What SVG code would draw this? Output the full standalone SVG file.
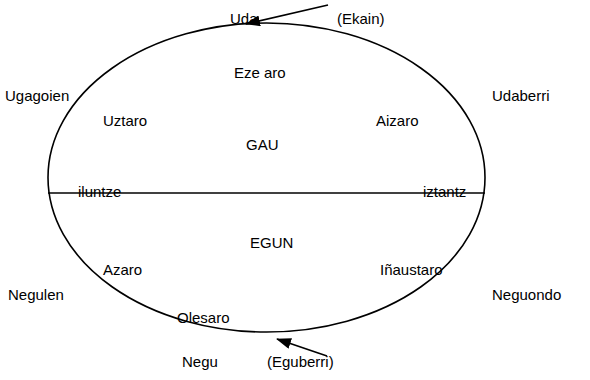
<svg xmlns="http://www.w3.org/2000/svg" width="590" height="380" viewBox="0 0 590 380">
<style>
text{font-family:"Liberation Sans",Arial,sans-serif;font-size:15px;fill:#000}
.ln{stroke:#000;stroke-width:1.6;fill:none}
</style>
<defs>
<marker id="ah" markerWidth="15" markerHeight="11" refX="14" refY="5.5" orient="auto" markerUnits="userSpaceOnUse">
<path d="M0,0 L15,5.5 L0,11 Z" fill="#000"/>
</marker>
</defs>
<rect width="590" height="380" fill="#fff"/>
<g id="circle"><ellipse class="ln" cx="266.5" cy="177.5" rx="218.5" ry="154.5"/></g>
<g id="connectors">
<line class="ln" x1="48" y1="193" x2="485" y2="193"/>
<line class="ln" x1="328" y1="5" x2="246" y2="24" marker-end="url(#ah)"/>
<line class="ln" x1="327" y1="356" x2="277" y2="339" marker-end="url(#ah)"/>
</g>
<g id="uda"><text x="230" y="24">Uda</text></g>
<g id="ekain"><text x="337" y="24">(Ekain)</text></g>
<g id="ezearo"><text x="234" y="78">Eze aro</text></g>
<g id="ugagoien"><text x="5" y="101">Ugagoien</text></g>
<g id="udaberri"><text x="492" y="101">Udaberri</text></g>
<g id="uztaro"><text x="103" y="126">Uztaro</text></g>
<g id="aizaro"><text x="376" y="126">Aizaro</text></g>
<g id="gau"><text x="246" y="150">GAU</text></g>
<g id="iluntze"><text x="78" y="197">iluntze</text></g>
<g id="iztantz"><text x="423" y="197">iztantz</text></g>
<g id="egun"><text x="250" y="248">EGUN</text></g>
<g id="azaro"><text x="103" y="275">Azaro</text></g>
<g id="inaustaro"><text x="380" y="275">Iñaustaro</text></g>
<g id="negulen"><text x="8" y="300">Negulen</text></g>
<g id="neguondo"><text x="492" y="300">Neguondo</text></g>
<g id="olesaro"><text x="177" y="323">Olesaro</text></g>
<g id="negu"><text x="182" y="367">Negu</text></g>
<g id="eguberri"><text x="267" y="367">(Eguberri)</text></g>
</svg>
